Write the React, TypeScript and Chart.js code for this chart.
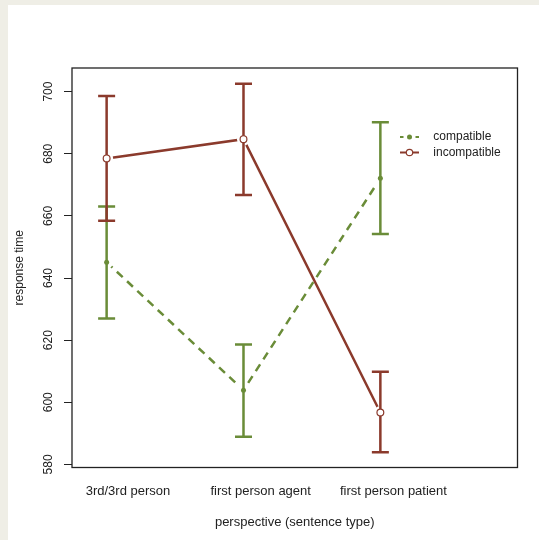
import { useEffect, useRef } from 'react';
import { Chart, registerables } from 'chart.js';

Chart.register(...registerables);

const categories = ['3rd/3rd person', 'first person agent', 'first person patient'];
const compatibleMean = [645.1, 603.9, 672.1];
const compatibleLower = [627.0, 588.9, 654.2];
const compatibleUpper = [663.0, 618.6, 690.1];
const incompatibleMean = [678.5, 684.7, 596.7];
const incompatibleLower = [658.4, 666.7, 583.9];
const incompatibleUpper = [698.6, 702.5, 609.8];
const yTicks = [580, 600, 620, 640, 660, 680, 700];
const seriesNames = ['compatible', 'incompatible'];
const xTitle = 'perspective (sentence type)';
const yTitle = 'response time';

const GREEN = '#6a8c38';
const BROWN = '#8b3a2c';
const TEXT = '#222';
const FONT = "'Liberation Sans', Arial, sans-serif";

const toPoints = (arr: number[]) => arr.map((v, i) => ({ x: i + 1, y: v }));

const errorBarPlugin = {
  id: 'errorBars',
  afterDatasetDraw(chart: any, args: any) {
    const ds = chart.data.datasets[args.index];
    if (ds.label !== 'halo') return;
    const ctx = chart.ctx;
    const xs = chart.scales.x;
    const ys = chart.scales.y;
    const groups = [
      { lower: compatibleLower, upper: compatibleUpper, color: GREEN },
      { lower: incompatibleLower, upper: incompatibleUpper, color: BROWN },
    ];
    ctx.save();
    ctx.lineWidth = 2.5;
    ctx.lineCap = 'butt';
    groups.forEach((g) => {
      g.lower.forEach((lo, i) => {
        const x = xs.getPixelForValue(i + 1);
        const y1 = ys.getPixelForValue(lo);
        const y2 = ys.getPixelForValue(g.upper[i]);
        ctx.strokeStyle = g.color;
        ctx.beginPath();
        ctx.moveTo(x, y1);
        ctx.lineTo(x, y2);
        ctx.moveTo(x - 8.5, y1);
        ctx.lineTo(x + 8.5, y1);
        ctx.moveTo(x - 8.5, y2);
        ctx.lineTo(x + 8.5, y2);
        ctx.stroke();
      });
    });
    ctx.restore();
  },
};

const boxPlugin = {
  id: 'box',
  afterDraw(chart: any) {
    const { ctx, chartArea: a } = chart;
    ctx.save();
    ctx.strokeStyle = '#222';
    ctx.lineWidth = 1.3;
    ctx.strokeRect(a.left, a.top, a.right - a.left, a.bottom - a.top);
    ctx.restore();
  },
};

const legendPlugin = {
  id: 'customLegend',
  afterDraw(chart: any) {
    const { ctx, chartArea: a } = chart;
    const s = a.right - 117.5;
    const e = a.right - 98.5;
    const m = (s + e) / 2;
    const tx = a.right - 84.2;
    const ys = [a.top + 69, a.top + 84.5];
    ctx.save();
    // compatible
    ctx.strokeStyle = GREEN;
    ctx.fillStyle = GREEN;
    ctx.lineWidth = 2;
    ctx.beginPath();
    ctx.moveTo(s, ys[0]);
    ctx.lineTo(s + 3.5, ys[0]);
    ctx.moveTo(e - 3.5, ys[0]);
    ctx.lineTo(e, ys[0]);
    ctx.stroke();
    ctx.beginPath();
    ctx.arc(m, ys[0], 2.5, 0, Math.PI * 2);
    ctx.fill();
    // incompatible
    ctx.strokeStyle = BROWN;
    ctx.beginPath();
    ctx.moveTo(s, ys[1]);
    ctx.lineTo(e, ys[1]);
    ctx.stroke();
    ctx.beginPath();
    ctx.arc(m, ys[1], 3.2, 0, Math.PI * 2);
    ctx.fillStyle = '#fff';
    ctx.fill();
    ctx.lineWidth = 1.2;
    ctx.stroke();
    ctx.fillStyle = TEXT;
    ctx.font = `12px ${FONT}`;
    ctx.textBaseline = 'middle';
    ctx.textAlign = 'left';
    seriesNames.forEach((n, i) => ctx.fillText(n, tx, ys[i]));
    ctx.restore();
  },
};

export default function App() {
  const ref = useRef<HTMLCanvasElement>(null);

  useEffect(() => {
    if (!ref.current) return;
    const chart = new Chart(ref.current, {
      type: 'line',
      data: {
        datasets: [
          {
            label: seriesNames[0],
            data: toPoints(compatibleMean),
            borderColor: GREEN,
            borderWidth: 2.5,
            borderDash: [8, 6],
            pointRadius: 0,
            fill: false,
            order: 5,
          },
          {
            label: seriesNames[1],
            data: toPoints(incompatibleMean),
            borderColor: BROWN,
            borderWidth: 2.5,
            pointRadius: 0,
            fill: false,
            order: 5,
          },
          {
            label: 'halo',
            data: [...toPoints(compatibleMean), ...toPoints(incompatibleMean)],
            showLine: false,
            pointRadius: 6.5,
            pointBackgroundColor: '#fff',
            pointBorderWidth: 0,
            pointBorderColor: '#fff',
            order: 4,
          },
          {
            label: 'compatible-markers',
            data: toPoints(compatibleMean),
            showLine: false,
            pointRadius: 2.5,
            pointBackgroundColor: GREEN,
            pointBorderColor: GREEN,
            pointBorderWidth: 0,
            order: 1,
          },
          {
            label: 'incompatible-markers',
            data: toPoints(incompatibleMean),
            showLine: false,
            pointRadius: 3.4,
            pointBackgroundColor: '#fff',
            pointBorderColor: BROWN,
            pointBorderWidth: 1.2,
            order: 1,
          },
        ],
      },
      options: {
        responsive: false,
        animation: false,
        devicePixelRatio: 1,
        layout: { padding: { top: 63, right: 21.5, left: 0, bottom: 0 } },
        plugins: { legend: { display: false }, tooltip: { enabled: false } },
        scales: {
          x: {
            type: 'linear',
            min: 0.747,
            max: 4.002,
            display: false,
          },
          xl: {
            type: 'linear',
            position: 'bottom',
            min: 0.5785,
            max: 3.9345,
            grid: { display: false, drawTicks: false, tickLength: 0 },
            border: { display: false },
            afterBuildTicks: (s: any) => {
              s.ticks = categories.map((_, i) => ({ value: i + 1 }));
            },
            afterFit: (s: any) => {
              s.height = 72.5;
            },
            ticks: {
              padding: 16,
              color: TEXT,
              font: { family: FONT, size: 13 },
              maxRotation: 0,
              autoSkip: false,
              callback: (v: any) => categories[Math.round(v) - 1] ?? '',
            },
            title: {
              display: true,
              text: xTitle,
              color: TEXT,
              font: { family: FONT, size: 13 },
              padding: { top: 0, bottom: 9.5 },
            },
          },
          y: {
            type: 'linear',
            min: 579.0,
            max: 707.6,
            afterBuildTicks: (s: any) => {
              s.ticks = yTicks.map((v) => ({ value: v }));
            },
            afterFit: (s: any) => {
              s.width = 64;
            },
            grid: {
              drawOnChartArea: false,
              drawTicks: true,
              tickLength: 8,
              color: '#222',
              lineWidth: 1,
            },
            border: { display: false },
            ticks: {
              padding: 5,
              color: TEXT,
              crossAlign: 'center',
              minRotation: 90,
              maxRotation: 90,
              font: { family: FONT, size: 12 },
              callback: (v: any) => String(v),
            },
            title: {
              display: true,
              text: yTitle,
              color: TEXT,
              font: { family: FONT, size: 12 },
              padding: { top: 4, bottom: 0 },
            },
          },
        },
      },
      plugins: [errorBarPlugin, boxPlugin, legendPlugin],
    } as any);
    return () => chart.destroy();
  }, []);

  return (
    <div style={{ position: 'fixed', inset: 0, background: '#efeee6' }}>
      <div
        style={{
          position: 'absolute',
          left: 8,
          top: 5,
          right: 0,
          bottom: 0,
          background: '#fff',
        }}
      >
        <canvas ref={ref} width={531} height={535} style={{ display: 'block', width: 531, height: 535 }} />
      </div>
    </div>
  );
}
